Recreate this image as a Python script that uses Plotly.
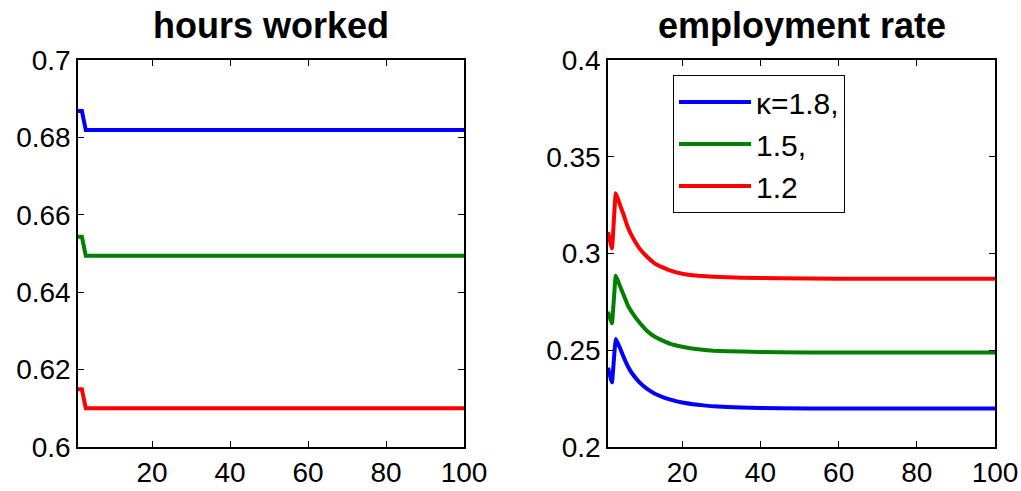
import plotly.graph_objects as go

W, H = 1021, 491

# ---- data ----
hours_x = [1, 2, 3, 100]
hours_k18 = [0.6868, 0.6868, 0.6819, 0.6819]
hours_k15 = [0.6543, 0.6543, 0.6494, 0.6494]
hours_k12 = [0.6149, 0.6149, 0.6100, 0.6100]

emp_x = [1, 2, 3, 4, 5, 6, 7, 9, 11, 13, 15, 17, 20, 24, 28, 35, 45, 60, 100]
emp_k18 = [0.2410, 0.2334, 0.2558, 0.2515, 0.2465, 0.2420, 0.2385, 0.2335, 0.2300, 0.2275,
           0.2258, 0.2245, 0.2230, 0.2218, 0.2210, 0.2204, 0.2200, 0.2199, 0.2199]
emp_k15 = [0.2699, 0.2639, 0.2885, 0.2835, 0.2785, 0.2735, 0.2700, 0.2645, 0.2600, 0.2570,
           0.2550, 0.2533, 0.2518, 0.2505, 0.2498, 0.2493, 0.2490, 0.2488, 0.2488]
emp_k12 = [0.3110, 0.3027, 0.3311, 0.3255, 0.3200, 0.3140, 0.3095, 0.3028, 0.2983, 0.2948,
           0.2928, 0.2911, 0.2895, 0.2885, 0.2880, 0.2875, 0.2872, 0.2870, 0.2870]

series_names = ["\u03ba=1.8,", "1.5,", "1.2"]
colors = ["#0000FF", "#008000", "#FF0000"]

x_ticks = [20, 40, 60, 80, 100]
hours_ticks = [0.6, 0.62, 0.64, 0.66, 0.68, 0.7]
hours_ticklabels = ["0.6", "0.62", "0.64", "0.66", "0.68", "0.7"]
emp_ticks = [0.2, 0.25, 0.3, 0.35, 0.4]
emp_ticklabels = ["0.2", "0.25", "0.3", "0.35", "0.4"]
titles = ["hours worked", "employment rate"]

fig = go.Figure()
for ys, name, c in zip([hours_k18, hours_k15, hours_k12], series_names, colors):
    fig.add_trace(go.Scatter(x=hours_x, y=ys, mode="lines", name=name,
                             line=dict(color=c, width=4), showlegend=False,
                             xaxis="x", yaxis="y"))
for ys, name, c in zip([emp_k18, emp_k15, emp_k12], series_names, colors):
    fig.add_trace(go.Scatter(x=emp_x, y=ys, mode="lines", name=name,
                             line=dict(color=c, width=4, shape="spline", smoothing=0.3),
                             showlegend=True, xaxis="x2", yaxis="y2"))

font = "Liberation Sans, Arial, sans-serif"


def px_x(p):
    return p / W


def px_y(p):
    return 1 - p / H


ydom = [px_y(447), px_y(60)]
common_axis = dict(showline=True, linecolor="black", linewidth=1.5, mirror="ticks",
                   ticks="inside", ticklen=6, tickcolor="black", showgrid=False,
                   zeroline=False, automargin=False,
                   tickfont=dict(family=font, size=28, color="black"))

fig.update_layout(
    width=W, height=H,
    margin=dict(l=0, r=0, t=0, b=0),
    paper_bgcolor="white", plot_bgcolor="white",
    xaxis=dict(domain=[px_x(78), px_x(464)], range=[1, 100], tickvals=x_ticks,
               anchor="y", **common_axis),
    yaxis=dict(domain=ydom, range=[0.6, 0.7], tickvals=hours_ticks,
               ticktext=hours_ticklabels, anchor="x", **common_axis),
    xaxis2=dict(domain=[px_x(608), px_x(995)], range=[1, 100], tickvals=x_ticks,
                anchor="y2", **common_axis),
    yaxis2=dict(domain=ydom, range=[0.2, 0.4], tickvals=emp_ticks,
                ticktext=emp_ticklabels, anchor="x2", **common_axis),
    legend=dict(x=px_x(673), y=px_y(75), xanchor="left", yanchor="top",
                bgcolor="white", bordercolor="black", borderwidth=1,
                font=dict(family=font, size=30, color="black"),
                itemwidth=72, entrywidth=115, entrywidthmode="pixels"),
    annotations=[
        dict(text="<b>" + titles[0] + "</b>", x=px_x((78 + 464) / 2), y=px_y(26),
             xref="paper", yref="paper", xanchor="center", yanchor="middle",
             showarrow=False, font=dict(family=font, size=36, color="black")),
        dict(text="<b>" + titles[1] + "</b>", x=px_x((608 + 995) / 2), y=px_y(26),
             xref="paper", yref="paper", xanchor="center", yanchor="middle",
             showarrow=False, font=dict(family=font, size=36, color="black")),
    ],
)

fig.write_html("out.html", config={"displayModeBar": False},
               post_script="document.body.style.margin='0';document.body.style.overflow='hidden';")
